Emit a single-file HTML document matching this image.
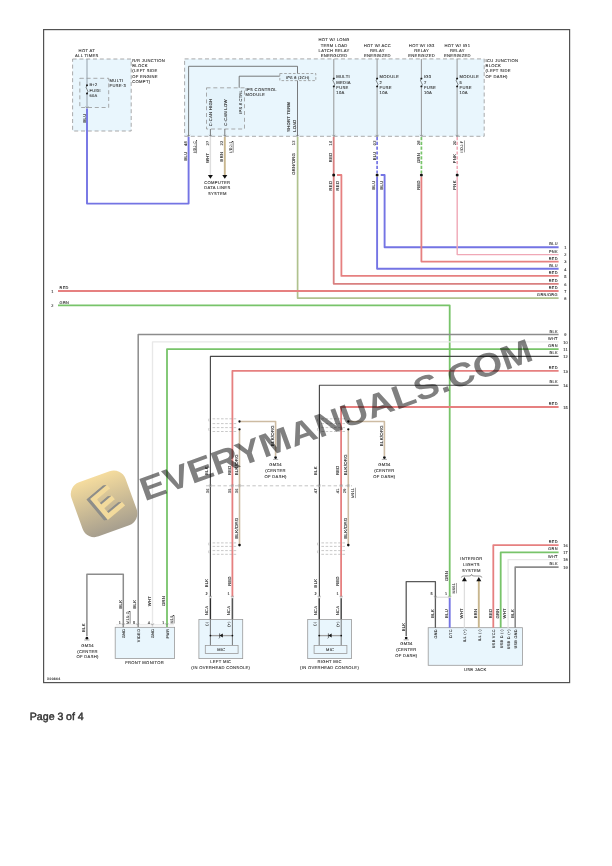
<!DOCTYPE html>
<html><head><meta charset="utf-8"><style>
html,body{margin:0;padding:0;background:#fff;}
body{width:612px;height:866px;overflow:hidden;position:relative;}
svg{position:absolute;left:0;top:0;will-change:transform;}
text{letter-spacing:0.3px;stroke:#2e2e2e;stroke-width:0.1px;text-rendering:geometricPrecision;}
</style></head><body>
<svg width="612" height="866" viewBox="0 0 612 866" font-family='"Liberation Sans", sans-serif'>
<rect width="612" height="866" fill="#fff"/>
<rect x="43.6" y="29.6" width="526" height="653" fill="none" stroke="#525252" stroke-width="1.2"/>
<rect x="72.6" y="59.0" width="58.6" height="72.0" fill="#e9f6fd" stroke="#969696" stroke-width="0.8" stroke-dasharray="4 2.8"/>
<rect x="79.8" y="78.3" width="28.9" height="29.2" fill="#e4f3fb" stroke="#969696" stroke-width="0.8" stroke-dasharray="4 2.8"/>
<path d="M87 59 L87 84.4" fill="none" stroke="#8a96a0" stroke-width="0.9" stroke-linejoin="round"/>
<path d="M87 93.6 L87 108" fill="none" stroke="#8a96a0" stroke-width="0.9" stroke-linejoin="round"/>
<circle cx="87" cy="85.2" r="1.0" fill="#111"/>
<circle cx="87" cy="93.6" r="1.0" fill="#111"/>
<path d="M87 85.2 q-1.8 2.1 0 4.2 q1.8 2.1 0 4.2" fill="none" stroke="#333" stroke-width="0.6" stroke-linejoin="round"/>
<path d="M85.6 106.4 L87 108.2 L88.4 106.4" fill="none" stroke="#666" stroke-width="0.5" stroke-linejoin="round"/>
<text x="86.80" y="51.65" font-size="4.15" text-anchor="middle" fill="#2e2e2e" font-weight="normal">HOT AT</text>
<text x="86.80" y="57.05" font-size="4.15" text-anchor="middle" fill="#2e2e2e" font-weight="normal">ALL TIMES</text>
<text x="89.40" y="86.00" font-size="4.0" text-anchor="start" fill="#2e2e2e" font-weight="normal">B+2</text>
<text x="89.40" y="91.70" font-size="4.0" text-anchor="start" fill="#2e2e2e" font-weight="normal">FUSE</text>
<text x="89.40" y="97.40" font-size="4.0" text-anchor="start" fill="#2e2e2e" font-weight="normal">60A</text>
<text x="109.60" y="81.65" font-size="4.15" text-anchor="start" fill="#2e2e2e" font-weight="normal">MULTI</text>
<text x="109.60" y="86.85" font-size="4.15" text-anchor="start" fill="#2e2e2e" font-weight="normal">FUSE-3</text>
<text x="132.30" y="61.85" font-size="4.15" text-anchor="start" fill="#2e2e2e" font-weight="normal">R/R JUNCTION</text>
<text x="132.30" y="67.15" font-size="4.15" text-anchor="start" fill="#2e2e2e" font-weight="normal">BLOCK</text>
<text x="132.30" y="72.45" font-size="4.15" text-anchor="start" fill="#2e2e2e" font-weight="normal">(LEFT SIDE</text>
<text x="132.30" y="77.75" font-size="4.15" text-anchor="start" fill="#2e2e2e" font-weight="normal">OF ENGINE</text>
<text x="132.30" y="83.05" font-size="4.15" text-anchor="start" fill="#2e2e2e" font-weight="normal">COMPT)</text>
<text x="85.65" y="118.00" font-size="4.15" text-anchor="middle" fill="#2e2e2e" transform="rotate(-90 85.65 118.00)">BLU</text>
<rect x="184.6" y="58.9" width="299.6" height="77.4" fill="#e9f6fd" stroke="#969696" stroke-width="0.8" stroke-dasharray="4 2.8"/>
<rect x="206.5" y="87.8" width="38.0" height="41.2" fill="#e4f3fb" stroke="#969696" stroke-width="0.8" stroke-dasharray="4 2.8"/>
<path d="M188.6 136 L188.6 66.3 L297.5 66.3 L297.5 136" fill="none" stroke="#5a5a5a" stroke-width="0.8" stroke-linejoin="round"/>
<path d="M239.2 87.8 L239.2 76.2 L279.8 76.2" fill="none" stroke="#5a5a5a" stroke-width="0.8" stroke-linejoin="round"/>
<rect x="279.8" y="73.5" width="36.0" height="7.1" fill="#e4f3fb" stroke="#969696" stroke-width="0.8" stroke-dasharray="2.6 1.8"/>
<text x="297.80" y="78.93" font-size="3.8" text-anchor="middle" fill="#2e2e2e" font-weight="normal">IPS 8 (2CH)</text>
<text x="245.60" y="90.85" font-size="4.15" text-anchor="start" fill="#2e2e2e" font-weight="normal">IPS CONTROL</text>
<text x="245.60" y="96.45" font-size="4.15" text-anchor="start" fill="#2e2e2e" font-weight="normal">MODULE</text>
<text x="212.45" y="126.30" font-size="4.15" text-anchor="start" fill="#2e2e2e" transform="rotate(-90 212.45 126.30)">C-CAN HIGH</text>
<text x="226.65" y="125.70" font-size="4.15" text-anchor="start" fill="#2e2e2e" transform="rotate(-90 226.65 125.70)">C-CAN LOW</text>
<text x="241.56" y="113.80" font-size="3.9" text-anchor="start" fill="#2e2e2e" transform="rotate(-90 241.56 113.80)">IPS 8 CTRL</text>
<text x="289.65" y="131.80" font-size="4.15" text-anchor="start" fill="#2e2e2e" transform="rotate(-90 289.65 131.80)">SHORT TERM</text>
<text x="295.95" y="131.80" font-size="4.15" text-anchor="start" fill="#2e2e2e" transform="rotate(-90 295.95 131.80)">LOAD</text>
<path d="M210.4 129 L210.4 136" fill="none" stroke="#5a5a5a" stroke-width="0.8" stroke-linejoin="round"/>
<path d="M224.8 129 L224.8 136" fill="none" stroke="#5a5a5a" stroke-width="0.8" stroke-linejoin="round"/>
<path d="M333.8 58.9 L333.8 77.5" fill="none" stroke="#8c8c8c" stroke-width="0.9" stroke-linejoin="round"/>
<path d="M333.8 87.5 L333.8 136" fill="none" stroke="#8c8c8c" stroke-width="0.9" stroke-linejoin="round"/>
<circle cx="333.8" cy="78.4" r="1.0" fill="#111"/>
<circle cx="333.8" cy="86.6" r="1.0" fill="#111"/>
<path d="M333.8 78.4 q-1.8 2 0 4.1 q1.8 2 0 4.1" fill="none" stroke="#333" stroke-width="0.6" stroke-linejoin="round"/>
<text x="334.10" y="41.10" font-size="4.15" text-anchor="middle" fill="#2e2e2e" font-weight="normal">HOT W/ LONG</text>
<text x="334.10" y="46.55" font-size="4.15" text-anchor="middle" fill="#2e2e2e" font-weight="normal">TERM LOAD</text>
<text x="334.10" y="52.00" font-size="4.15" text-anchor="middle" fill="#2e2e2e" font-weight="normal">LATCH RELAY</text>
<text x="334.10" y="57.45" font-size="4.15" text-anchor="middle" fill="#2e2e2e" font-weight="normal">ENERGIZED</text>
<text x="336.30" y="78.05" font-size="4.15" text-anchor="start" fill="#2e2e2e" font-weight="normal">MULTI</text>
<text x="336.30" y="83.50" font-size="4.15" text-anchor="start" fill="#2e2e2e" font-weight="normal">MEDIA</text>
<text x="336.30" y="88.95" font-size="4.15" text-anchor="start" fill="#2e2e2e" font-weight="normal">FUSE</text>
<text x="336.30" y="94.40" font-size="4.15" text-anchor="start" fill="#2e2e2e" font-weight="normal">10A</text>
<path d="M377.1 58.9 L377.1 77.5" fill="none" stroke="#8c8c8c" stroke-width="0.9" stroke-linejoin="round"/>
<path d="M377.1 87.5 L377.1 136" fill="none" stroke="#8c8c8c" stroke-width="0.9" stroke-linejoin="round"/>
<circle cx="377.1" cy="78.4" r="1.0" fill="#111"/>
<circle cx="377.1" cy="86.6" r="1.0" fill="#111"/>
<path d="M377.1 78.4 q-1.8 2 0 4.1 q1.8 2 0 4.1" fill="none" stroke="#333" stroke-width="0.6" stroke-linejoin="round"/>
<text x="377.40" y="46.55" font-size="4.15" text-anchor="middle" fill="#2e2e2e" font-weight="normal">HOT W/ ACC</text>
<text x="377.40" y="52.00" font-size="4.15" text-anchor="middle" fill="#2e2e2e" font-weight="normal">RELAY</text>
<text x="377.40" y="57.45" font-size="4.15" text-anchor="middle" fill="#2e2e2e" font-weight="normal">ENERGIZED</text>
<text x="379.60" y="78.05" font-size="4.15" text-anchor="start" fill="#2e2e2e" font-weight="normal">MODULE</text>
<text x="379.60" y="83.50" font-size="4.15" text-anchor="start" fill="#2e2e2e" font-weight="normal">2</text>
<text x="379.60" y="88.95" font-size="4.15" text-anchor="start" fill="#2e2e2e" font-weight="normal">FUSE</text>
<text x="379.60" y="94.40" font-size="4.15" text-anchor="start" fill="#2e2e2e" font-weight="normal">10A</text>
<path d="M421.4 58.9 L421.4 77.5" fill="none" stroke="#8c8c8c" stroke-width="0.9" stroke-linejoin="round"/>
<path d="M421.4 87.5 L421.4 136" fill="none" stroke="#8c8c8c" stroke-width="0.9" stroke-linejoin="round"/>
<circle cx="421.4" cy="78.4" r="1.0" fill="#111"/>
<circle cx="421.4" cy="86.6" r="1.0" fill="#111"/>
<path d="M421.4 78.4 q-1.8 2 0 4.1 q1.8 2 0 4.1" fill="none" stroke="#333" stroke-width="0.6" stroke-linejoin="round"/>
<text x="421.70" y="46.55" font-size="4.15" text-anchor="middle" fill="#2e2e2e" font-weight="normal">HOT W/ IG3</text>
<text x="421.70" y="52.00" font-size="4.15" text-anchor="middle" fill="#2e2e2e" font-weight="normal">RELAY</text>
<text x="421.70" y="57.45" font-size="4.15" text-anchor="middle" fill="#2e2e2e" font-weight="normal">ENERGIZED</text>
<text x="423.90" y="78.05" font-size="4.15" text-anchor="start" fill="#2e2e2e" font-weight="normal">IG3</text>
<text x="423.90" y="83.50" font-size="4.15" text-anchor="start" fill="#2e2e2e" font-weight="normal">7</text>
<text x="423.90" y="88.95" font-size="4.15" text-anchor="start" fill="#2e2e2e" font-weight="normal">FUSE</text>
<text x="423.90" y="94.40" font-size="4.15" text-anchor="start" fill="#2e2e2e" font-weight="normal">10A</text>
<path d="M457.1 58.9 L457.1 77.5" fill="none" stroke="#8c8c8c" stroke-width="0.9" stroke-linejoin="round"/>
<path d="M457.1 87.5 L457.1 136" fill="none" stroke="#8c8c8c" stroke-width="0.9" stroke-linejoin="round"/>
<circle cx="457.1" cy="78.4" r="1.0" fill="#111"/>
<circle cx="457.1" cy="86.6" r="1.0" fill="#111"/>
<path d="M457.1 78.4 q-1.8 2 0 4.1 q1.8 2 0 4.1" fill="none" stroke="#333" stroke-width="0.6" stroke-linejoin="round"/>
<text x="457.40" y="46.55" font-size="4.15" text-anchor="middle" fill="#2e2e2e" font-weight="normal">HOT W/ IG1</text>
<text x="457.40" y="52.00" font-size="4.15" text-anchor="middle" fill="#2e2e2e" font-weight="normal">RELAY</text>
<text x="457.40" y="57.45" font-size="4.15" text-anchor="middle" fill="#2e2e2e" font-weight="normal">ENERGIZED</text>
<text x="459.60" y="78.05" font-size="4.15" text-anchor="start" fill="#2e2e2e" font-weight="normal">MODULE</text>
<text x="459.60" y="83.50" font-size="4.15" text-anchor="start" fill="#2e2e2e" font-weight="normal">5</text>
<text x="459.60" y="88.95" font-size="4.15" text-anchor="start" fill="#2e2e2e" font-weight="normal">FUSE</text>
<text x="459.60" y="94.40" font-size="4.15" text-anchor="start" fill="#2e2e2e" font-weight="normal">10A</text>
<text x="485.60" y="62.05" font-size="4.15" text-anchor="start" fill="#2e2e2e" font-weight="normal">ICU JUNCTION</text>
<text x="485.60" y="67.20" font-size="4.15" text-anchor="start" fill="#2e2e2e" font-weight="normal">BLOCK</text>
<text x="485.60" y="72.35" font-size="4.15" text-anchor="start" fill="#2e2e2e" font-weight="normal">(LEFT SIDE</text>
<text x="485.60" y="77.50" font-size="4.15" text-anchor="start" fill="#2e2e2e" font-weight="normal">OF DASH)</text>
<path d="M187.2 134.8 L188.6 136.6 L190.0 134.8" fill="none" stroke="#666" stroke-width="0.5" stroke-linejoin="round"/>
<path d="M209.0 134.8 L210.4 136.6 L211.8 134.8" fill="none" stroke="#666" stroke-width="0.5" stroke-linejoin="round"/>
<path d="M223.4 134.8 L224.8 136.6 L226.20000000000002 134.8" fill="none" stroke="#666" stroke-width="0.5" stroke-linejoin="round"/>
<path d="M296.1 134.8 L297.5 136.6 L298.9 134.8" fill="none" stroke="#666" stroke-width="0.5" stroke-linejoin="round"/>
<path d="M332.40000000000003 134.8 L333.8 136.6 L335.2 134.8" fill="none" stroke="#666" stroke-width="0.5" stroke-linejoin="round"/>
<path d="M375.70000000000005 134.8 L377.1 136.6 L378.5 134.8" fill="none" stroke="#666" stroke-width="0.5" stroke-linejoin="round"/>
<path d="M420.0 134.8 L421.4 136.6 L422.79999999999995 134.8" fill="none" stroke="#666" stroke-width="0.5" stroke-linejoin="round"/>
<path d="M455.70000000000005 134.8 L457.1 136.6 L458.5 134.8" fill="none" stroke="#666" stroke-width="0.5" stroke-linejoin="round"/>
<path d="M87 108.5 L87 203.6 L188.6 203.6 L188.6 136.8" fill="none" stroke="#7474e4" stroke-width="1.9" stroke-linejoin="round"/>
<path d="M210.4 136.8 L210.4 176" fill="none" stroke="#dedede" stroke-width="1.4" stroke-linejoin="round"/>
<path d="M224.8 136.8 L224.8 176" fill="none" stroke="#c8b68e" stroke-width="1.9" stroke-linejoin="round"/>
<path d="M207.9 175.1 L212.9 175.1 L210.4 178.8 Z" fill="#111"/>
<path d="M222.3 175.1 L227.3 175.1 L224.8 178.8 Z" fill="#111"/>
<text x="217.30" y="183.95" font-size="4.15" text-anchor="middle" fill="#2e2e2e" font-weight="normal">COMPUTER</text>
<text x="217.30" y="189.45" font-size="4.15" text-anchor="middle" fill="#2e2e2e" font-weight="normal">DATA LINES</text>
<text x="217.30" y="194.95" font-size="4.15" text-anchor="middle" fill="#2e2e2e" font-weight="normal">SYSTEM</text>
<path d="M297.6 136.8 L297.6 298.1 L558.6 298.1" fill="none" stroke="#b0c28e" stroke-width="1.7" stroke-linejoin="round"/>
<path d="M333.7 136.8 L333.7 283.8 L558.6 283.8" fill="none" stroke="#d98080" stroke-width="1.8" stroke-linejoin="round"/>
<path d="M337.0 175 L341.4 175 L341.4 275.9 L558.6 275.9" fill="none" stroke="#e68080" stroke-width="1.8" stroke-linejoin="round"/>
<path d="M377.1 137 L377.1 173.2" fill="none" stroke="#7474e4" stroke-width="1.7" stroke-dasharray="3.2 1.6" stroke-linejoin="round"/>
<path d="M377.1 176.8 L377.1 268.8 L558.6 268.8" fill="none" stroke="#7474e4" stroke-width="1.9" stroke-linejoin="round"/>
<path d="M380.7 175 L384.6 175 L384.6 247.3 L558.6 247.3" fill="none" stroke="#7474e4" stroke-width="1.9" stroke-linejoin="round"/>
<path d="M421.4 137 L421.4 173.2" fill="none" stroke="#78c46a" stroke-width="1.7" stroke-dasharray="3.2 1.6" stroke-linejoin="round"/>
<path d="M421.4 176.8 L421.4 261.6 L558.6 261.6" fill="none" stroke="#e68080" stroke-width="1.8" stroke-linejoin="round"/>
<path d="M457.2 137 L457.2 173.2" fill="none" stroke="#f0a8b6" stroke-width="1.5" stroke-dasharray="3.2 1.6" stroke-linejoin="round"/>
<path d="M457.2 176.8 L457.2 254.6 L558.6 254.6" fill="none" stroke="#f0a8b6" stroke-width="1.4" stroke-linejoin="round"/>
<circle cx="333.7" cy="175" r="1.5" fill="#111"/>
<circle cx="377.1" cy="175" r="1.5" fill="#111"/>
<circle cx="421.4" cy="175" r="1.5" fill="#111"/>
<circle cx="457.2" cy="175" r="1.5" fill="#111"/>
<text x="187.06" y="143.50" font-size="3.9" text-anchor="middle" fill="#2e2e2e" transform="rotate(-90 187.06 143.50)">48</text>
<text x="187.15" y="156.00" font-size="4.15" text-anchor="middle" fill="#2e2e2e" transform="rotate(-90 187.15 156.00)">BLU</text>
<text x="195.59" y="147.00" font-size="3.7" text-anchor="middle" fill="#2e2e2e" transform="rotate(-90 195.59 147.00)" text-decoration="underline">I/DJ-C</text>
<text x="208.87" y="143.00" font-size="3.9" text-anchor="middle" fill="#2e2e2e" transform="rotate(-90 208.87 143.00)">27</text>
<text x="208.95" y="157.80" font-size="4.15" text-anchor="middle" fill="#2e2e2e" transform="rotate(-90 208.95 157.80)">WHT</text>
<text x="223.17" y="143.00" font-size="3.9" text-anchor="middle" fill="#2e2e2e" transform="rotate(-90 223.17 143.00)">22</text>
<text x="223.25" y="156.60" font-size="4.15" text-anchor="middle" fill="#2e2e2e" transform="rotate(-90 223.25 156.60)">BRN</text>
<text x="231.89" y="147.00" font-size="3.7" text-anchor="middle" fill="#2e2e2e" transform="rotate(-90 231.89 147.00)" text-decoration="underline">I/DJ-1</text>
<text x="295.37" y="142.80" font-size="3.9" text-anchor="middle" fill="#2e2e2e" transform="rotate(-90 295.37 142.80)">13</text>
<text x="295.45" y="163.90" font-size="4.15" text-anchor="middle" fill="#2e2e2e" transform="rotate(-90 295.45 163.90)">GRN/ORG</text>
<text x="331.67" y="143.00" font-size="3.9" text-anchor="middle" fill="#2e2e2e" transform="rotate(-90 331.67 143.00)">16</text>
<text x="331.75" y="157.30" font-size="4.15" text-anchor="middle" fill="#2e2e2e" transform="rotate(-90 331.75 157.30)">RED</text>
<text x="375.76" y="142.80" font-size="3.9" text-anchor="middle" fill="#2e2e2e" transform="rotate(-90 375.76 142.80)">02</text>
<text x="375.85" y="155.80" font-size="4.15" text-anchor="middle" fill="#2e2e2e" transform="rotate(-90 375.85 155.80)">BLU</text>
<text x="420.06" y="142.80" font-size="3.9" text-anchor="middle" fill="#2e2e2e" transform="rotate(-90 420.06 142.80)">28</text>
<text x="420.15" y="158.00" font-size="4.15" text-anchor="middle" fill="#2e2e2e" transform="rotate(-90 420.15 158.00)">GRN</text>
<text x="455.67" y="142.80" font-size="3.9" text-anchor="middle" fill="#2e2e2e" transform="rotate(-90 455.67 142.80)">20</text>
<text x="455.75" y="158.50" font-size="4.15" text-anchor="middle" fill="#2e2e2e" transform="rotate(-90 455.75 158.50)">PNK</text>
<text x="463.30" y="146.50" font-size="3.7" text-anchor="middle" fill="#2e2e2e" transform="rotate(-90 463.30 146.50)" text-decoration="underline">I/DJ-F</text>
<text x="331.75" y="185.60" font-size="4.15" text-anchor="middle" fill="#2e2e2e" transform="rotate(-90 331.75 185.60)">RED</text>
<text x="339.25" y="185.60" font-size="4.15" text-anchor="middle" fill="#2e2e2e" transform="rotate(-90 339.25 185.60)">RED</text>
<text x="375.45" y="185.00" font-size="4.15" text-anchor="middle" fill="#2e2e2e" transform="rotate(-90 375.45 185.00)">BLU</text>
<text x="382.75" y="185.00" font-size="4.15" text-anchor="middle" fill="#2e2e2e" transform="rotate(-90 382.75 185.00)">BLU</text>
<text x="420.15" y="185.00" font-size="4.15" text-anchor="middle" fill="#2e2e2e" transform="rotate(-90 420.15 185.00)">RED</text>
<text x="455.75" y="185.00" font-size="4.15" text-anchor="middle" fill="#2e2e2e" transform="rotate(-90 455.75 185.00)">PNK</text>
<path d="M58 291 L558.6 291" fill="none" stroke="#e68080" stroke-width="1.8" stroke-linejoin="round"/>
<path d="M58 305.3 L449.7 305.3 L449.7 596.5" fill="none" stroke="#78c46a" stroke-width="1.8" stroke-linejoin="round"/>
<text x="52.60" y="292.97" font-size="3.9" text-anchor="middle" fill="#2e2e2e" font-weight="normal">1</text>
<text x="52.60" y="307.26" font-size="3.9" text-anchor="middle" fill="#2e2e2e" font-weight="normal">2</text>
<text x="59.60" y="289.47" font-size="3.9" text-anchor="start" fill="#2e2e2e" font-weight="normal">RED</text>
<text x="59.60" y="303.56" font-size="3.9" text-anchor="start" fill="#2e2e2e" font-weight="normal">GRN</text>
<path d="M558.6 334.6 L138.2 334.6 L138.2 627.3" fill="none" stroke="#8c8c8c" stroke-width="1.5" stroke-linejoin="round"/>
<path d="M558.6 341.9 L152.5 341.9 L152.5 627.3" fill="none" stroke="#e8e8e8" stroke-width="1.4" stroke-linejoin="round"/>
<path d="M558.6 349.1 L167.0 349.1 L167.0 627.3" fill="none" stroke="#78c46a" stroke-width="1.8" stroke-linejoin="round"/>
<path d="M558.6 356.4 L210.4 356.4 L210.4 596.5" fill="none" stroke="#484848" stroke-width="1.15" stroke-linejoin="round"/>
<path d="M558.6 370.8 L232.4 370.8 L232.4 596.5" fill="none" stroke="#e68080" stroke-width="1.8" stroke-linejoin="round"/>
<path d="M558.6 385.2 L319.4 385.2 L319.4 596.5" fill="none" stroke="#484848" stroke-width="1.15" stroke-linejoin="round"/>
<path d="M558.6 407.0 L341.1 407.0 L341.1 596.5" fill="none" stroke="#e68080" stroke-width="1.8" stroke-linejoin="round"/>
<text x="557.80" y="245.27" font-size="3.9" text-anchor="end" fill="#2e2e2e" font-weight="normal">BLU</text>
<text x="565.60" y="249.07" font-size="3.9" text-anchor="middle" fill="#2e2e2e" font-weight="normal">1</text>
<text x="557.80" y="252.56" font-size="3.9" text-anchor="end" fill="#2e2e2e" font-weight="normal">PNK</text>
<text x="565.60" y="256.37" font-size="3.9" text-anchor="middle" fill="#2e2e2e" font-weight="normal">2</text>
<text x="557.80" y="259.57" font-size="3.9" text-anchor="end" fill="#2e2e2e" font-weight="normal">RED</text>
<text x="565.60" y="263.37" font-size="3.9" text-anchor="middle" fill="#2e2e2e" font-weight="normal">3</text>
<text x="557.80" y="266.77" font-size="3.9" text-anchor="end" fill="#2e2e2e" font-weight="normal">BLU</text>
<text x="565.60" y="270.56" font-size="3.9" text-anchor="middle" fill="#2e2e2e" font-weight="normal">4</text>
<text x="557.80" y="273.87" font-size="3.9" text-anchor="end" fill="#2e2e2e" font-weight="normal">RED</text>
<text x="565.60" y="277.66" font-size="3.9" text-anchor="middle" fill="#2e2e2e" font-weight="normal">5</text>
<text x="557.80" y="281.77" font-size="3.9" text-anchor="end" fill="#2e2e2e" font-weight="normal">RED</text>
<text x="565.60" y="285.56" font-size="3.9" text-anchor="middle" fill="#2e2e2e" font-weight="normal">6</text>
<text x="557.80" y="288.97" font-size="3.9" text-anchor="end" fill="#2e2e2e" font-weight="normal">RED</text>
<text x="565.60" y="292.76" font-size="3.9" text-anchor="middle" fill="#2e2e2e" font-weight="normal">7</text>
<text x="557.80" y="296.07" font-size="3.9" text-anchor="end" fill="#2e2e2e" font-weight="normal">GRN/ORG</text>
<text x="565.60" y="299.87" font-size="3.9" text-anchor="middle" fill="#2e2e2e" font-weight="normal">8</text>
<text x="557.80" y="332.57" font-size="3.9" text-anchor="end" fill="#2e2e2e" font-weight="normal">BLK</text>
<text x="565.60" y="336.37" font-size="3.9" text-anchor="middle" fill="#2e2e2e" font-weight="normal">9</text>
<text x="557.80" y="339.87" font-size="3.9" text-anchor="end" fill="#2e2e2e" font-weight="normal">WHT</text>
<text x="565.60" y="343.66" font-size="3.9" text-anchor="middle" fill="#2e2e2e" font-weight="normal">10</text>
<text x="557.80" y="347.07" font-size="3.9" text-anchor="end" fill="#2e2e2e" font-weight="normal">GRN</text>
<text x="565.60" y="350.87" font-size="3.9" text-anchor="middle" fill="#2e2e2e" font-weight="normal">11</text>
<text x="557.80" y="354.37" font-size="3.9" text-anchor="end" fill="#2e2e2e" font-weight="normal">BLK</text>
<text x="565.60" y="358.16" font-size="3.9" text-anchor="middle" fill="#2e2e2e" font-weight="normal">12</text>
<text x="557.80" y="368.77" font-size="3.9" text-anchor="end" fill="#2e2e2e" font-weight="normal">RED</text>
<text x="565.60" y="372.56" font-size="3.9" text-anchor="middle" fill="#2e2e2e" font-weight="normal">13</text>
<text x="557.80" y="383.17" font-size="3.9" text-anchor="end" fill="#2e2e2e" font-weight="normal">BLK</text>
<text x="565.60" y="386.96" font-size="3.9" text-anchor="middle" fill="#2e2e2e" font-weight="normal">14</text>
<text x="557.80" y="404.97" font-size="3.9" text-anchor="end" fill="#2e2e2e" font-weight="normal">RED</text>
<text x="565.60" y="408.76" font-size="3.9" text-anchor="middle" fill="#2e2e2e" font-weight="normal">15</text>
<text x="557.80" y="543.07" font-size="3.9" text-anchor="end" fill="#2e2e2e" font-weight="normal">RED</text>
<text x="565.60" y="546.87" font-size="3.9" text-anchor="middle" fill="#2e2e2e" font-weight="normal">16</text>
<text x="557.80" y="550.26" font-size="3.9" text-anchor="end" fill="#2e2e2e" font-weight="normal">GRN</text>
<text x="565.60" y="554.06" font-size="3.9" text-anchor="middle" fill="#2e2e2e" font-weight="normal">17</text>
<text x="557.80" y="557.57" font-size="3.9" text-anchor="end" fill="#2e2e2e" font-weight="normal">WHT</text>
<text x="565.60" y="561.37" font-size="3.9" text-anchor="middle" fill="#2e2e2e" font-weight="normal">18</text>
<text x="557.80" y="565.07" font-size="3.9" text-anchor="end" fill="#2e2e2e" font-weight="normal">BLK</text>
<text x="565.60" y="568.87" font-size="3.9" text-anchor="middle" fill="#2e2e2e" font-weight="normal">19</text>
<path d="M212.6 418.8 L237.7 418.8" fill="none" stroke="#a4a4a4" stroke-width="0.6" stroke-dasharray="2.6 1.6" stroke-linejoin="round"/>
<path d="M212.6 423.6 L237.7 423.6" fill="none" stroke="#a4a4a4" stroke-width="0.6" stroke-dasharray="2.6 1.6" stroke-linejoin="round"/>
<path d="M212.6 427.6 L237.7 427.6" fill="none" stroke="#a4a4a4" stroke-width="0.6" stroke-dasharray="2.6 1.6" stroke-linejoin="round"/>
<path d="M212.6 431.5 L237.7 431.5" fill="none" stroke="#a4a4a4" stroke-width="0.6" stroke-dasharray="2.6 1.6" stroke-linejoin="round"/>
<path d="M212.6 542.9 L237.7 542.9" fill="none" stroke="#a4a4a4" stroke-width="0.6" stroke-dasharray="2.6 1.6" stroke-linejoin="round"/>
<path d="M212.6 546.4 L237.7 546.4" fill="none" stroke="#a4a4a4" stroke-width="0.6" stroke-dasharray="2.6 1.6" stroke-linejoin="round"/>
<path d="M212.6 550.6 L237.7 550.6" fill="none" stroke="#a4a4a4" stroke-width="0.6" stroke-dasharray="2.6 1.6" stroke-linejoin="round"/>
<path d="M212.6 554.3 L237.7 554.3" fill="none" stroke="#a4a4a4" stroke-width="0.6" stroke-dasharray="2.6 1.6" stroke-linejoin="round"/>
<path d="M209.0 418.6 q-0.8 1.4 0 2.8 M209.0 428 q-0.8 1.4 0 2.8" fill="none" stroke="#999" stroke-width="0.5" stroke-linejoin="round"/>
<path d="M209.0 542.6 q-0.8 1.4 0 2.8 M209.0 550.4 q-0.8 1.4 0 2.8" fill="none" stroke="#999" stroke-width="0.5" stroke-linejoin="round"/>
<path d="M239.5 421.5 L275.6 421.5 L275.6 456.0" fill="none" stroke="#cdbba2" stroke-width="1.6" stroke-linejoin="round"/>
<path d="M239.5 429.3 L239.5 545" fill="none" stroke="#cdbba2" stroke-width="1.6" stroke-linejoin="round"/>
<circle cx="239.5" cy="421.5" r="1.15" fill="#111"/>
<circle cx="239.5" cy="429.3" r="1.15" fill="#111"/>
<circle cx="239.5" cy="545.1" r="1.3" fill="#111"/>
<circle cx="275.6" cy="457.6" r="1.35" fill="#111"/>
<path d="M273.0 459.4 L278.20000000000005 459.4" fill="none" stroke="#777" stroke-width="0.6" stroke-linejoin="round"/>
<text x="275.60" y="465.95" font-size="4.15" text-anchor="middle" fill="#2e2e2e" font-weight="normal">GM34</text>
<text x="275.60" y="471.85" font-size="4.15" text-anchor="middle" fill="#2e2e2e" font-weight="normal">(CENTER</text>
<text x="275.60" y="477.75" font-size="4.15" text-anchor="middle" fill="#2e2e2e" font-weight="normal">OF DASH)</text>
<text x="274.11" y="435.60" font-size="4.3" text-anchor="middle" fill="#2e2e2e" transform="rotate(-90 274.11 435.60)">BLK/ORG</text>
<text x="208.45" y="470.60" font-size="4.15" text-anchor="middle" fill="#2e2e2e" transform="rotate(-90 208.45 470.60)">BLK</text>
<text x="230.65" y="470.20" font-size="4.15" text-anchor="middle" fill="#2e2e2e" transform="rotate(-90 230.65 470.20)">RED</text>
<text x="237.81" y="464.70" font-size="4.3" text-anchor="middle" fill="#2e2e2e" transform="rotate(-90 237.81 464.70)">BLK/ORG</text>
<text x="237.81" y="528.00" font-size="4.3" text-anchor="middle" fill="#2e2e2e" transform="rotate(-90 237.81 528.00)">BLK/ORG</text>
<path d="M208.8 485.1 L212.0 485.1" fill="none" stroke="#888" stroke-width="0.6" stroke-linejoin="round"/>
<path d="M209.1 486.6 L211.70000000000002 486.6" fill="none" stroke="#aaa" stroke-width="0.6" stroke-linejoin="round"/>
<path d="M230.8 485.1 L234.0 485.1" fill="none" stroke="#888" stroke-width="0.6" stroke-linejoin="round"/>
<path d="M231.1 486.6 L233.70000000000002 486.6" fill="none" stroke="#aaa" stroke-width="0.6" stroke-linejoin="round"/>
<path d="M237.9 485.1 L241.1 485.1" fill="none" stroke="#888" stroke-width="0.6" stroke-linejoin="round"/>
<path d="M238.2 486.6 L240.8 486.6" fill="none" stroke="#aaa" stroke-width="0.6" stroke-linejoin="round"/>
<text x="208.53" y="490.80" font-size="3.8" text-anchor="middle" fill="#2e2e2e" transform="rotate(-90 208.53 490.80)">36</text>
<text x="230.53" y="490.80" font-size="3.8" text-anchor="middle" fill="#2e2e2e" transform="rotate(-90 230.53 490.80)">35</text>
<text x="237.63" y="490.80" font-size="3.8" text-anchor="middle" fill="#2e2e2e" transform="rotate(-90 237.63 490.80)">36</text>
<text x="208.45" y="583.00" font-size="4.15" text-anchor="middle" fill="#2e2e2e" transform="rotate(-90 208.45 583.00)">BLK</text>
<text x="230.65" y="581.00" font-size="4.15" text-anchor="middle" fill="#2e2e2e" transform="rotate(-90 230.65 581.00)">RED</text>
<text x="206.80" y="595.03" font-size="3.8" text-anchor="middle" fill="#2e2e2e" font-weight="normal">2</text>
<text x="228.80" y="595.03" font-size="3.8" text-anchor="middle" fill="#2e2e2e" font-weight="normal">1</text>
<path d="M208.8 596.3000000000001 L212.0 596.3000000000001" fill="none" stroke="#888" stroke-width="0.6" stroke-linejoin="round"/>
<path d="M209.1 597.8000000000001 L211.70000000000002 597.8000000000001" fill="none" stroke="#aaa" stroke-width="0.6" stroke-linejoin="round"/>
<path d="M230.8 596.3000000000001 L234.0 596.3000000000001" fill="none" stroke="#888" stroke-width="0.6" stroke-linejoin="round"/>
<path d="M231.1 597.8000000000001 L233.70000000000002 597.8000000000001" fill="none" stroke="#aaa" stroke-width="0.6" stroke-linejoin="round"/>
<path d="M210.4 598.2 L210.4 619.4" fill="none" stroke="#2e2e2e" stroke-width="1.4" stroke-linejoin="round"/>
<path d="M232.4 598.2 L232.4 619.4" fill="none" stroke="#555" stroke-width="1.6" stroke-linejoin="round"/>
<text x="208.45" y="610.40" font-size="4.15" text-anchor="middle" fill="#2e2e2e" transform="rotate(-90 208.45 610.40)">NCA</text>
<text x="230.45" y="610.40" font-size="4.15" text-anchor="middle" fill="#2e2e2e" transform="rotate(-90 230.45 610.40)">NCA</text>
<rect x="198.9" y="619.4" width="43.8" height="39.2" fill="#e9f6fd" stroke="#9a9a9a" stroke-width="0.8"/>
<path d="M210.4 619.4 L210.4 645.6" fill="none" stroke="#555" stroke-width="0.8" stroke-linejoin="round"/>
<path d="M232.4 619.4 L232.4 645.6" fill="none" stroke="#555" stroke-width="0.8" stroke-linejoin="round"/>
<path d="M210.4 635.6 L232.4 635.6" fill="none" stroke="#a0a0a0" stroke-width="1.3" stroke-linejoin="round"/>
<circle cx="210.4" cy="635.6" r="0.9" fill="#111"/>
<circle cx="232.4" cy="635.6" r="0.9" fill="#111"/>
<path d="M219.60 635.6 L222.80 633.6 L222.80 637.6 Z" fill="#111"/>
<path d="M219.60 633.4 L219.60 637.8 l-0.6 0.6" fill="none" stroke="#111" stroke-width="0.6" stroke-linejoin="round"/>
<rect x="205.3" y="645.6" width="32.8" height="7.8" fill="#e9f6fd" stroke="#9a9a9a" stroke-width="0.8"/>
<text x="221.40" y="651.00" font-size="4.0" text-anchor="middle" fill="#2e2e2e" font-weight="normal">MIC</text>
<text x="207.62" y="623.60" font-size="3.5" text-anchor="middle" fill="#2e2e2e" transform="rotate(-90 207.62 623.60)">(-)</text>
<text x="230.03" y="624.00" font-size="3.5" text-anchor="middle" fill="#2e2e2e" transform="rotate(-90 230.03 624.00)">(+)</text>
<path d="M321.4 418.8 L346.5 418.8" fill="none" stroke="#a4a4a4" stroke-width="0.6" stroke-dasharray="2.6 1.6" stroke-linejoin="round"/>
<path d="M321.4 423.6 L346.5 423.6" fill="none" stroke="#a4a4a4" stroke-width="0.6" stroke-dasharray="2.6 1.6" stroke-linejoin="round"/>
<path d="M321.4 427.6 L346.5 427.6" fill="none" stroke="#a4a4a4" stroke-width="0.6" stroke-dasharray="2.6 1.6" stroke-linejoin="round"/>
<path d="M321.4 431.5 L346.5 431.5" fill="none" stroke="#a4a4a4" stroke-width="0.6" stroke-dasharray="2.6 1.6" stroke-linejoin="round"/>
<path d="M321.4 542.9 L346.5 542.9" fill="none" stroke="#a4a4a4" stroke-width="0.6" stroke-dasharray="2.6 1.6" stroke-linejoin="round"/>
<path d="M321.4 546.4 L346.5 546.4" fill="none" stroke="#a4a4a4" stroke-width="0.6" stroke-dasharray="2.6 1.6" stroke-linejoin="round"/>
<path d="M321.4 550.6 L346.5 550.6" fill="none" stroke="#a4a4a4" stroke-width="0.6" stroke-dasharray="2.6 1.6" stroke-linejoin="round"/>
<path d="M321.4 554.3 L346.5 554.3" fill="none" stroke="#a4a4a4" stroke-width="0.6" stroke-dasharray="2.6 1.6" stroke-linejoin="round"/>
<path d="M317.8 418.6 q-0.8 1.4 0 2.8 M317.8 428 q-0.8 1.4 0 2.8" fill="none" stroke="#999" stroke-width="0.5" stroke-linejoin="round"/>
<path d="M317.8 542.6 q-0.8 1.4 0 2.8 M317.8 550.4 q-0.8 1.4 0 2.8" fill="none" stroke="#999" stroke-width="0.5" stroke-linejoin="round"/>
<path d="M348.3 421.5 L384.40000000000003 421.5 L384.40000000000003 456.0" fill="none" stroke="#cdbba2" stroke-width="1.6" stroke-linejoin="round"/>
<path d="M348.3 429.3 L348.3 545" fill="none" stroke="#cdbba2" stroke-width="1.6" stroke-linejoin="round"/>
<circle cx="348.3" cy="421.5" r="1.15" fill="#111"/>
<circle cx="348.3" cy="429.3" r="1.15" fill="#111"/>
<circle cx="348.3" cy="545.1" r="1.3" fill="#111"/>
<circle cx="384.40000000000003" cy="457.6" r="1.35" fill="#111"/>
<path d="M381.8 459.4 L387.00000000000006 459.4" fill="none" stroke="#777" stroke-width="0.6" stroke-linejoin="round"/>
<text x="384.40" y="465.95" font-size="4.15" text-anchor="middle" fill="#2e2e2e" font-weight="normal">GM34</text>
<text x="384.40" y="471.85" font-size="4.15" text-anchor="middle" fill="#2e2e2e" font-weight="normal">(CENTER</text>
<text x="384.40" y="477.75" font-size="4.15" text-anchor="middle" fill="#2e2e2e" font-weight="normal">OF DASH)</text>
<text x="382.91" y="435.60" font-size="4.3" text-anchor="middle" fill="#2e2e2e" transform="rotate(-90 382.91 435.60)">BLK/ORG</text>
<text x="317.25" y="470.60" font-size="4.15" text-anchor="middle" fill="#2e2e2e" transform="rotate(-90 317.25 470.60)">BLK</text>
<text x="339.45" y="470.20" font-size="4.15" text-anchor="middle" fill="#2e2e2e" transform="rotate(-90 339.45 470.20)">RED</text>
<text x="346.61" y="464.70" font-size="4.3" text-anchor="middle" fill="#2e2e2e" transform="rotate(-90 346.61 464.70)">BLK/ORG</text>
<text x="346.61" y="528.00" font-size="4.3" text-anchor="middle" fill="#2e2e2e" transform="rotate(-90 346.61 528.00)">BLK/ORG</text>
<path d="M317.59999999999997 485.1 L320.8 485.1" fill="none" stroke="#888" stroke-width="0.6" stroke-linejoin="round"/>
<path d="M317.9 486.6 L320.5 486.6" fill="none" stroke="#aaa" stroke-width="0.6" stroke-linejoin="round"/>
<path d="M339.59999999999997 485.1 L342.8 485.1" fill="none" stroke="#888" stroke-width="0.6" stroke-linejoin="round"/>
<path d="M339.9 486.6 L342.5 486.6" fill="none" stroke="#aaa" stroke-width="0.6" stroke-linejoin="round"/>
<path d="M346.7 485.1 L349.90000000000003 485.1" fill="none" stroke="#888" stroke-width="0.6" stroke-linejoin="round"/>
<path d="M347.0 486.6 L349.6 486.6" fill="none" stroke="#aaa" stroke-width="0.6" stroke-linejoin="round"/>
<text x="317.33" y="490.80" font-size="3.8" text-anchor="middle" fill="#2e2e2e" transform="rotate(-90 317.33 490.80)">47</text>
<text x="339.33" y="490.80" font-size="3.8" text-anchor="middle" fill="#2e2e2e" transform="rotate(-90 339.33 490.80)">41</text>
<text x="346.43" y="490.80" font-size="3.8" text-anchor="middle" fill="#2e2e2e" transform="rotate(-90 346.43 490.80)">29</text>
<text x="317.25" y="583.00" font-size="4.15" text-anchor="middle" fill="#2e2e2e" transform="rotate(-90 317.25 583.00)">BLK</text>
<text x="339.45" y="581.00" font-size="4.15" text-anchor="middle" fill="#2e2e2e" transform="rotate(-90 339.45 581.00)">RED</text>
<text x="315.60" y="595.03" font-size="3.8" text-anchor="middle" fill="#2e2e2e" font-weight="normal">2</text>
<text x="337.60" y="595.03" font-size="3.8" text-anchor="middle" fill="#2e2e2e" font-weight="normal">1</text>
<path d="M317.59999999999997 596.3000000000001 L320.8 596.3000000000001" fill="none" stroke="#888" stroke-width="0.6" stroke-linejoin="round"/>
<path d="M317.9 597.8000000000001 L320.5 597.8000000000001" fill="none" stroke="#aaa" stroke-width="0.6" stroke-linejoin="round"/>
<path d="M339.59999999999997 596.3000000000001 L342.8 596.3000000000001" fill="none" stroke="#888" stroke-width="0.6" stroke-linejoin="round"/>
<path d="M339.9 597.8000000000001 L342.5 597.8000000000001" fill="none" stroke="#aaa" stroke-width="0.6" stroke-linejoin="round"/>
<path d="M319.2 598.2 L319.2 619.4" fill="none" stroke="#2e2e2e" stroke-width="1.4" stroke-linejoin="round"/>
<path d="M341.2 598.2 L341.2 619.4" fill="none" stroke="#555" stroke-width="1.6" stroke-linejoin="round"/>
<text x="317.25" y="610.40" font-size="4.15" text-anchor="middle" fill="#2e2e2e" transform="rotate(-90 317.25 610.40)">NCA</text>
<text x="339.25" y="610.40" font-size="4.15" text-anchor="middle" fill="#2e2e2e" transform="rotate(-90 339.25 610.40)">NCA</text>
<rect x="307.7" y="619.4" width="43.8" height="39.2" fill="#e9f6fd" stroke="#9a9a9a" stroke-width="0.8"/>
<path d="M319.2 619.4 L319.2 645.6" fill="none" stroke="#555" stroke-width="0.8" stroke-linejoin="round"/>
<path d="M341.2 619.4 L341.2 645.6" fill="none" stroke="#555" stroke-width="0.8" stroke-linejoin="round"/>
<path d="M319.2 635.6 L341.2 635.6" fill="none" stroke="#a0a0a0" stroke-width="1.3" stroke-linejoin="round"/>
<circle cx="319.2" cy="635.6" r="0.9" fill="#111"/>
<circle cx="341.2" cy="635.6" r="0.9" fill="#111"/>
<path d="M328.40 635.6 L331.60 633.6 L331.60 637.6 Z" fill="#111"/>
<path d="M328.40 633.4 L328.40 637.8 l-0.6 0.6" fill="none" stroke="#111" stroke-width="0.6" stroke-linejoin="round"/>
<rect x="314.1" y="645.6" width="32.8" height="7.8" fill="#e9f6fd" stroke="#9a9a9a" stroke-width="0.8"/>
<text x="330.20" y="651.00" font-size="4.0" text-anchor="middle" fill="#2e2e2e" font-weight="normal">MIC</text>
<text x="316.43" y="623.60" font-size="3.5" text-anchor="middle" fill="#2e2e2e" transform="rotate(-90 316.43 623.60)">(-)</text>
<text x="338.82" y="624.00" font-size="3.5" text-anchor="middle" fill="#2e2e2e" transform="rotate(-90 338.82 624.00)">(+)</text>
<text x="220.80" y="663.45" font-size="4.15" text-anchor="middle" fill="#2e2e2e" font-weight="normal">LEFT MIC</text>
<text x="220.80" y="669.25" font-size="4.15" text-anchor="middle" fill="#2e2e2e" font-weight="normal">(IN OVERHEAD CONSOLE)</text>
<text x="329.60" y="663.45" font-size="4.15" text-anchor="middle" fill="#2e2e2e" font-weight="normal">RIGHT MIC</text>
<text x="329.60" y="669.25" font-size="4.15" text-anchor="middle" fill="#2e2e2e" font-weight="normal">(IN OVERHEAD CONSOLE)</text>
<path d="M206 485.8 L352 485.8" fill="none" stroke="#ababab" stroke-width="0.7" stroke-dasharray="3.4 2.4" stroke-linejoin="round"/>
<text x="354.30" y="493.00" font-size="3.7" text-anchor="middle" fill="#2e2e2e" transform="rotate(-90 354.30 493.00)" text-decoration="underline">M911</text>
<rect x="115.2" y="627.3" width="59.4" height="31.1" fill="#e9f6fd" stroke="#9a9a9a" stroke-width="0.8"/>
<path d="M123.3 627.3 L123.3 574.3 L86.9 574.3 L86.9 636.0" fill="none" stroke="#8c8c8c" stroke-width="1.5" stroke-linejoin="round"/>
<circle cx="86.9" cy="638.2" r="1.35" fill="#111"/>
<path d="M84.30000000000001 640.0 L89.5 640.0" fill="none" stroke="#777" stroke-width="0.6" stroke-linejoin="round"/>
<text x="87.60" y="647.15" font-size="4.15" text-anchor="middle" fill="#2e2e2e" font-weight="normal">GM34</text>
<text x="87.60" y="652.65" font-size="4.15" text-anchor="middle" fill="#2e2e2e" font-weight="normal">(CENTER</text>
<text x="87.60" y="658.15" font-size="4.15" text-anchor="middle" fill="#2e2e2e" font-weight="normal">OF DASH)</text>
<text x="85.45" y="627.60" font-size="4.15" text-anchor="middle" fill="#2e2e2e" transform="rotate(-90 85.45 627.60)">BLK</text>
<path d="M116 624.8 L174 624.8" fill="none" stroke="#cfcfcf" stroke-width="0.5" stroke-linejoin="round"/>
<path d="M121.89999999999999 623.4 L123.3 625.2 L124.7 623.4" fill="none" stroke="#666" stroke-width="0.5" stroke-linejoin="round"/>
<text x="125.23" y="628.80" font-size="3.8" text-anchor="end" fill="#2e2e2e" transform="rotate(-90 125.23 628.80)">GND</text>
<text x="119.90" y="624.23" font-size="3.8" text-anchor="middle" fill="#2e2e2e" font-weight="normal">1</text>
<text x="121.55" y="604.10" font-size="4.15" text-anchor="middle" fill="#2e2e2e" transform="rotate(-90 121.55 604.10)">BLK</text>
<path d="M136.2 623.4 L137.6 625.2 L139.0 623.4" fill="none" stroke="#666" stroke-width="0.5" stroke-linejoin="round"/>
<text x="139.53" y="628.80" font-size="3.8" text-anchor="end" fill="#2e2e2e" transform="rotate(-90 139.53 628.80)">VIDEO</text>
<text x="134.20" y="624.23" font-size="3.8" text-anchor="middle" fill="#2e2e2e" font-weight="normal">5</text>
<text x="135.85" y="604.10" font-size="4.15" text-anchor="middle" fill="#2e2e2e" transform="rotate(-90 135.85 604.10)">BLK</text>
<path d="M151.0 623.4 L152.4 625.2 L153.8 623.4" fill="none" stroke="#666" stroke-width="0.5" stroke-linejoin="round"/>
<text x="154.33" y="628.80" font-size="3.8" text-anchor="end" fill="#2e2e2e" transform="rotate(-90 154.33 628.80)">GND</text>
<text x="149.00" y="624.23" font-size="3.8" text-anchor="middle" fill="#2e2e2e" font-weight="normal">4</text>
<text x="150.65" y="601.00" font-size="4.15" text-anchor="middle" fill="#2e2e2e" transform="rotate(-90 150.65 601.00)">WHT</text>
<path d="M165.5 623.4 L166.9 625.2 L168.3 623.4" fill="none" stroke="#666" stroke-width="0.5" stroke-linejoin="round"/>
<text x="168.83" y="628.80" font-size="3.8" text-anchor="end" fill="#2e2e2e" transform="rotate(-90 168.83 628.80)">PWR</text>
<text x="163.50" y="624.23" font-size="3.8" text-anchor="middle" fill="#2e2e2e" font-weight="normal">1</text>
<text x="165.15" y="601.00" font-size="4.15" text-anchor="middle" fill="#2e2e2e" transform="rotate(-90 165.15 601.00)">GRN</text>
<text x="128.89" y="617.50" font-size="3.7" text-anchor="middle" fill="#2e2e2e" transform="rotate(-90 128.89 617.50)" text-decoration="underline">M15-G</text>
<text x="172.89" y="619.50" font-size="3.7" text-anchor="middle" fill="#2e2e2e" transform="rotate(-90 172.89 619.50)" text-decoration="underline">M15</text>
<text x="144.60" y="663.85" font-size="4.15" text-anchor="middle" fill="#2e2e2e" font-weight="normal">FRONT MONITOR</text>
<rect x="428.2" y="627.7" width="94.2" height="37.6" fill="#e9f6fd" stroke="#9a9a9a" stroke-width="0.8"/>
<path d="M558.6 545.1 L493.3 545.1 L493.3 627.7" fill="none" stroke="#e68080" stroke-width="1.8" stroke-linejoin="round"/>
<path d="M558.6 552.3 L500.7 552.3 L500.7 627.7" fill="none" stroke="#78c46a" stroke-width="1.8" stroke-linejoin="round"/>
<path d="M558.6 559.6 L508.1 559.6 L508.1 627.7" fill="none" stroke="#e8e8e8" stroke-width="1.4" stroke-linejoin="round"/>
<path d="M558.6 567.1 L515.2 567.1 L515.2 627.7" fill="none" stroke="#8c8c8c" stroke-width="1.6" stroke-linejoin="round"/>
<path d="M435.4 627.7 L435.4 581.6 L406.2 581.6 L406.2 636.0" fill="none" stroke="#5a5a5a" stroke-width="1.3" stroke-linejoin="round"/>
<circle cx="406.2" cy="638.0" r="1.35" fill="#111"/>
<path d="M403.59999999999997 639.8 L408.8 639.8" fill="none" stroke="#777" stroke-width="0.6" stroke-linejoin="round"/>
<text x="406.40" y="645.05" font-size="4.15" text-anchor="middle" fill="#2e2e2e" font-weight="normal">GM34</text>
<text x="406.40" y="650.95" font-size="4.15" text-anchor="middle" fill="#2e2e2e" font-weight="normal">(CENTER</text>
<text x="406.40" y="656.85" font-size="4.15" text-anchor="middle" fill="#2e2e2e" font-weight="normal">OF DASH)</text>
<text x="404.65" y="627.00" font-size="4.15" text-anchor="middle" fill="#2e2e2e" transform="rotate(-90 404.65 627.00)">BLK</text>
<path d="M449.7 597.8 L449.7 627.7" fill="none" stroke="#7474e4" stroke-width="1.9" stroke-linejoin="round"/>
<path d="M464.4 581 L464.4 627.7" fill="none" stroke="#dedede" stroke-width="1.3" stroke-linejoin="round"/>
<path d="M478.8 581 L478.8 627.7" fill="none" stroke="#c8b68e" stroke-width="1.9" stroke-linejoin="round"/>
<path d="M461.9 581.2 L466.9 581.2 L464.4 576.9 Z" fill="#111"/>
<path d="M476.3 581.2 L481.3 581.2 L478.8 576.9 Z" fill="#111"/>
<path d="M461.4 577.6 q0 -1.6 2.2 -1.6 l5.6 0 q2.4 0 2.4 -1.6 q0 1.6 2.4 1.6 l5.6 0 q2.2 0 2.2 1.6" fill="none" stroke="#333" stroke-width="0.5" stroke-linejoin="round"/>
<text x="471.40" y="560.35" font-size="4.15" text-anchor="middle" fill="#2e2e2e" font-weight="normal">INTERIOR</text>
<text x="471.40" y="566.20" font-size="4.15" text-anchor="middle" fill="#2e2e2e" font-weight="normal">LIGHTS</text>
<text x="471.40" y="572.05" font-size="4.15" text-anchor="middle" fill="#2e2e2e" font-weight="normal">SYSTEM</text>
<path d="M436.5 597.2 L448.6 597.2" fill="none" stroke="#bbb" stroke-width="0.6" stroke-linejoin="round"/>
<path d="M433.79999999999995 596.3000000000001 L437.0 596.3000000000001" fill="none" stroke="#888" stroke-width="0.6" stroke-linejoin="round"/>
<path d="M434.09999999999997 597.8000000000001 L436.7 597.8000000000001" fill="none" stroke="#aaa" stroke-width="0.6" stroke-linejoin="round"/>
<path d="M448.09999999999997 596.3000000000001 L451.3 596.3000000000001" fill="none" stroke="#888" stroke-width="0.6" stroke-linejoin="round"/>
<path d="M448.4 597.8000000000001 L451.0 597.8000000000001" fill="none" stroke="#aaa" stroke-width="0.6" stroke-linejoin="round"/>
<text x="431.80" y="594.93" font-size="3.8" text-anchor="middle" fill="#2e2e2e" font-weight="normal">5</text>
<text x="446.20" y="594.93" font-size="3.8" text-anchor="middle" fill="#2e2e2e" font-weight="normal">1</text>
<text x="447.55" y="576.00" font-size="4.15" text-anchor="middle" fill="#2e2e2e" transform="rotate(-90 447.55 576.00)">GRN</text>
<text x="455.50" y="588.20" font-size="3.7" text-anchor="middle" fill="#2e2e2e" transform="rotate(-90 455.50 588.20)" text-decoration="underline">M661</text>
<text x="433.75" y="613.40" font-size="4.15" text-anchor="middle" fill="#2e2e2e" transform="rotate(-90 433.75 613.40)">BLK</text>
<text x="437.33" y="629.20" font-size="3.8" text-anchor="end" fill="#2e2e2e" transform="rotate(-90 437.33 629.20)">GND</text>
<text x="448.05" y="613.40" font-size="4.15" text-anchor="middle" fill="#2e2e2e" transform="rotate(-90 448.05 613.40)">BLU</text>
<text x="451.63" y="629.20" font-size="3.8" text-anchor="end" fill="#2e2e2e" transform="rotate(-90 451.63 629.20)">DTC</text>
<text x="462.75" y="613.40" font-size="4.15" text-anchor="middle" fill="#2e2e2e" transform="rotate(-90 462.75 613.40)">WHT</text>
<text x="466.33" y="629.20" font-size="3.8" text-anchor="end" fill="#2e2e2e" transform="rotate(-90 466.33 629.20)">ILL (+)</text>
<text x="477.15" y="613.40" font-size="4.15" text-anchor="middle" fill="#2e2e2e" transform="rotate(-90 477.15 613.40)">BRN</text>
<text x="480.73" y="629.20" font-size="3.8" text-anchor="end" fill="#2e2e2e" transform="rotate(-90 480.73 629.20)">ILL (-)</text>
<text x="491.65" y="613.40" font-size="4.15" text-anchor="middle" fill="#2e2e2e" transform="rotate(-90 491.65 613.40)">RED</text>
<text x="495.23" y="629.20" font-size="3.8" text-anchor="end" fill="#2e2e2e" transform="rotate(-90 495.23 629.20)">USB VCC</text>
<text x="499.25" y="613.40" font-size="4.15" text-anchor="middle" fill="#2e2e2e" transform="rotate(-90 499.25 613.40)">GRN</text>
<text x="502.83" y="629.20" font-size="3.8" text-anchor="end" fill="#2e2e2e" transform="rotate(-90 502.83 629.20)">USB D (-)</text>
<text x="506.45" y="613.40" font-size="4.15" text-anchor="middle" fill="#2e2e2e" transform="rotate(-90 506.45 613.40)">WHT</text>
<text x="510.03" y="629.20" font-size="3.8" text-anchor="end" fill="#2e2e2e" transform="rotate(-90 510.03 629.20)">USB D (+)</text>
<text x="513.55" y="613.40" font-size="4.15" text-anchor="middle" fill="#2e2e2e" transform="rotate(-90 513.55 613.40)">BLK</text>
<text x="517.13" y="629.20" font-size="3.8" text-anchor="end" fill="#2e2e2e" transform="rotate(-90 517.13 629.20)">USB GND</text>
<text x="475.30" y="671.25" font-size="4.15" text-anchor="middle" fill="#2e2e2e" font-weight="normal">USB JACK</text>
<text x="53.70" y="679.59" font-size="3.4" text-anchor="middle" fill="#555" font-weight="bold">X00864</text>

<g style="mix-blend-mode:multiply">
  <text x="0" y="0" font-size="33" font-weight="bold" fill="#808080" style="stroke:none;letter-spacing:0" transform="translate(144.8 501.3) rotate(-19.94)" textLength="415" lengthAdjust="spacingAndGlyphs">EVERYMANUALS.COM</text>
</g>
<g transform="translate(104.1 503.8) rotate(-20)">
  <defs><linearGradient id="lg" x1="0" y1="0" x2="0" y2="1"><stop offset="0" stop-color="#f5dc9e"/><stop offset="1" stop-color="#a69e8e"/></linearGradient></defs>
  <rect x="-28.75" y="-28.75" width="57.5" height="57.5" rx="12.5" fill="url(#lg)"/>
</g>
<path transform="translate(103.70 502.90) rotate(-40) scale(1.1)" d="M-10 -12.5 L10 -12.5 L10 -8 L-5.5 -8 L-5.5 -2.2 L7 -2.2 L7 2.2 L-5.5 2.2 L-5.5 8 L10.5 8 L10.5 12.5 L-10 12.5 Z" fill="#8e8e8a"/><path transform="translate(104.44 502.80) rotate(-40) scale(1.1)" d="M-10 -12.5 L10 -12.5 L10 -8 L-5.5 -8 L-5.5 -2.2 L7 -2.2 L7 2.2 L-5.5 2.2 L-5.5 8 L10.5 8 L10.5 12.5 L-10 12.5 Z" fill="#8e8e8a"/><path transform="translate(105.18 502.70) rotate(-40) scale(1.1)" d="M-10 -12.5 L10 -12.5 L10 -8 L-5.5 -8 L-5.5 -2.2 L7 -2.2 L7 2.2 L-5.5 2.2 L-5.5 8 L10.5 8 L10.5 12.5 L-10 12.5 Z" fill="#8e8e8a"/><path transform="translate(105.92 502.60) rotate(-40) scale(1.1)" d="M-10 -12.5 L10 -12.5 L10 -8 L-5.5 -8 L-5.5 -2.2 L7 -2.2 L7 2.2 L-5.5 2.2 L-5.5 8 L10.5 8 L10.5 12.5 L-10 12.5 Z" fill="#8e8e8a"/><path transform="translate(106.66 502.50) rotate(-40) scale(1.1)" d="M-10 -12.5 L10 -12.5 L10 -8 L-5.5 -8 L-5.5 -2.2 L7 -2.2 L7 2.2 L-5.5 2.2 L-5.5 8 L10.5 8 L10.5 12.5 L-10 12.5 Z" fill="#8e8e8a"/>
<path transform="translate(107.4 502.4) rotate(-40) scale(1.1)" d="M-10 -12.5 L10 -12.5 L10 -8 L-5.5 -8 L-5.5 -2.2 L7 -2.2 L7 2.2 L-5.5 2.2 L-5.5 8 L10.5 8 L10.5 12.5 L-10 12.5 Z" fill="#f2da9c"/>

<text x="29.7" y="719.6" font-size="10.6" font-weight="normal" fill="#333" style="stroke:#333;stroke-width:0.45px;letter-spacing:0.1px;word-spacing:-0.4px">Page 3 of 4</text>
</svg>
</body></html>
